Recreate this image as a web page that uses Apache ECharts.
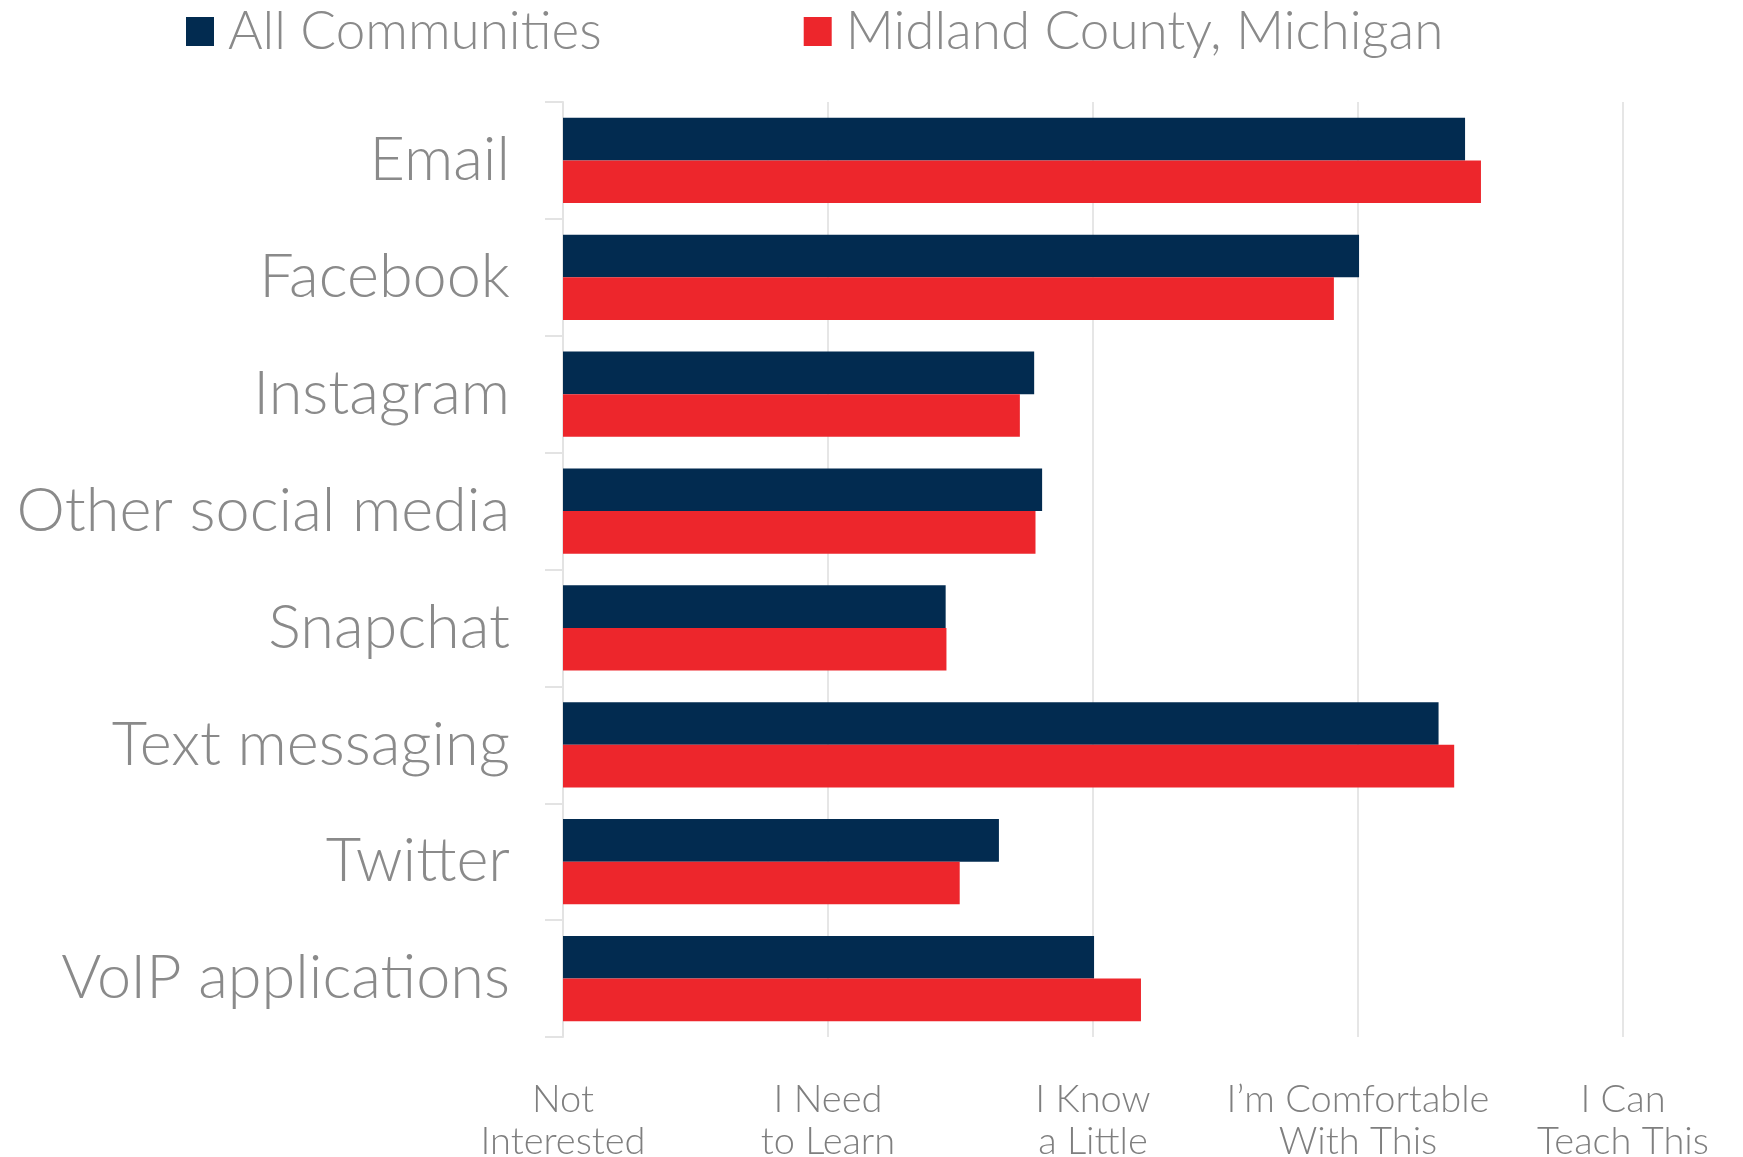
<!DOCTYPE html>
<html>
<head>
<meta charset="utf-8">
<script src="https://cdn.jsdelivr.net/npm/echarts@6/dist/echarts.min.js"></script>
<style>
html,body{margin:0;padding:0;background:#fff;}
#chart{width:1743px;height:1157px;}
</style>
</head>
<body>
<div id="chart"></div>
<script>
const categories = ["Email","Facebook","Instagram","Other social media","Snapchat","Text messaging","Twitter","VoIP applications"];
const allCommunities = [3.404, 3.004, 1.778, 1.808, 1.444, 3.304, 1.645, 2.004];
const midlandCounty = [3.464, 2.909, 1.724, 1.783, 1.447, 3.363, 1.497, 2.181];
const tickLabels = ["Not\nInterested","I Need\nto Learn","I Know\na Little","I\u2019m Comfortable\nWith This","I Can\nTeach This"];
const seriesNames = ["All Communities","Midland County, Michigan"];

const FONT = "Lato";
const chart = echarts.init(document.getElementById('chart'));
chart.setOption({
  animation: false,
  backgroundColor: '#ffffff',
  legend: {
    left: 186, top: 5, padding: 0,
    icon: 'rect', itemWidth: 28, itemHeight: 29, itemGap: 202,
    textStyle: {fontFamily: FONT, fontWeight: 300, fontSize: 53, color: '#8a8a8a', padding: [0,0,0,9]},
    data: seriesNames
  },
  grid: {left: 563, right: 120, top: 102, bottom: 120, containLabel: false, outerBoundsMode: 'none'},
  xAxis: {
    type: 'value', min: 0, max: 4, interval: 1,
    axisLine: {show: false}, axisTick: {show: false},
    splitLine: {show: true, lineStyle: {color: '#e6e6e6', width: 2}},
    axisLabel: {
      margin: 42, fontFamily: FONT, fontWeight: 300, fontSize: 38, color: '#7f7f7f', lineHeight: 42,
      formatter: function(v){ return tickLabels[Math.round(v)]; }
    }
  },
  yAxis: {
    type: 'category', data: categories, inverse: true,
    axisLine: {show: true, lineStyle: {color: '#e3e3e3', width: 2}},
    axisTick: {show: true, length: 18, lineStyle: {color: '#e3e3e3', width: 2}},
    axisLabel: {margin: 53, fontFamily: FONT, fontWeight: 300, fontSize: 61.2, color: '#8a8a8a', padding: [0,0,14,0]}
  },
  series: [
    {name: seriesNames[0], type: 'bar', data: allCommunities, barGap: '0%', barCategoryGap: '27%',
     itemStyle: {color: '#022b50'}},
    {name: seriesNames[1], type: 'bar', data: midlandCounty, barGap: '0%', barCategoryGap: '27%',
     itemStyle: {color: '#ed262c'}}
  ]
});
</script>
</body>
</html>
